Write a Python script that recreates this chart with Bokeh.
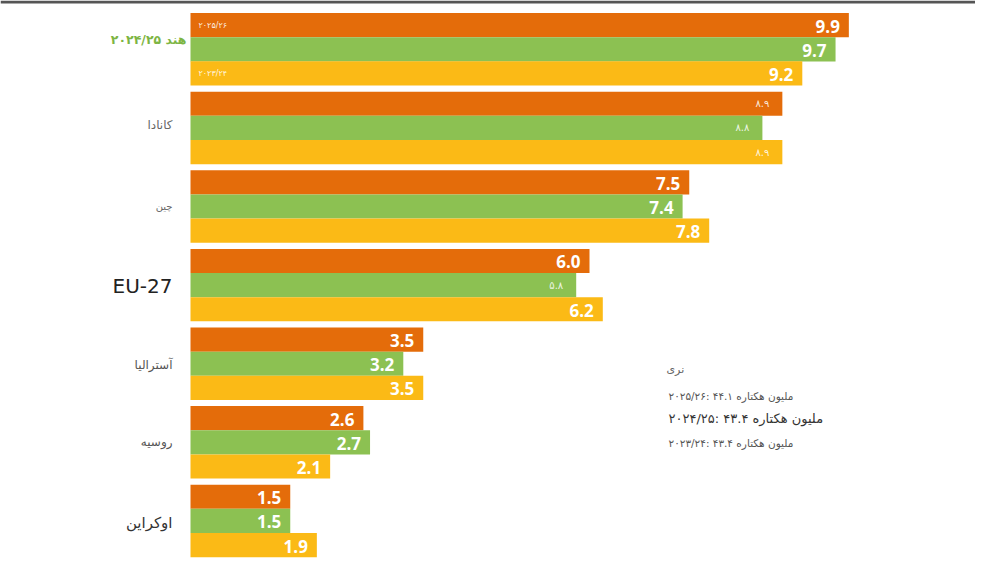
from bokeh.plotting import figure
from bokeh.models import ColumnDataSource, Range1d, Span, Label
from bokeh.core.properties import value
from bokeh.embed import file_html
from bokeh.resources import INLINE

# ---- data ----
countries = ["هند", "کانادا", "چین", "EU-27", "آسترالیا", "روسیه", "اوکراین"]
v2526 = [9.9, 8.9, 7.5, 6.0, 3.5, 2.6, 1.5]
v2425 = [9.7, 8.6, 7.4, 5.8, 3.2, 2.7, 1.5]
v2324 = [9.2, 8.9, 7.8, 6.2, 3.5, 2.1, 1.9]
l2526 = ["9.9", "۸.۹", "7.5", "6.0", "3.5", "2.6", "1.5"]
l2425 = ["9.7", "۸.۸", "7.4", "۵.۸", "3.2", "2.7", "1.5"]
l2324 = ["9.2", "۸.۹", "7.8", "6.2", "3.5", "2.1", "1.9"]
series_names = ["۲۰۲۵/۲۶", "۲۰۲۴/۲۵", "۲۰۲۳/۲۴"]
india_label = "هند ۲۰۲۴/۲۵"
note_title = "نری"
note_lines = ["\u200e۲۰۲۵/۲۶: ۴۴.۱ ملیون هکتاره",
              "\u200e۲۰۲۴/۲۵: ۴۳.۴ ملیون هکتاره",
              "\u200e۲۰۲۳/۲۴: ۴۳.۴ ملیون هکتاره"]

COL_OR = "#E46C0A"
COL_GR = "#8CC152"
COL_YE = "#FBBA16"

W, H = 975, 558
PX_PER_UNIT = 66.5
X0_PX = 190.0
PITCH = 78.6
G0_PX = 48.8
BAR_H = 24.15 / PITCH

x_start = -X0_PX / PX_PER_UNIT
x_end = (W - X0_PX) / PX_PER_UNIT
y_top = -G0_PX / PITCH
y_bot = (H - G0_PX) / PITCH

p = figure(width=W, height=H, output_backend="svg", toolbar_location=None,
           x_range=Range1d(x_start, x_end), y_range=Range1d(y_bot, y_top),
           min_border=0, min_border_left=0, min_border_right=0,
           min_border_top=0, min_border_bottom=0)
p.axis.visible = False
p.grid.visible = False
p.outline_line_color = None
p.background_fill_color = "white"
p.border_fill_color = "white"

persian = set("۰۱۲۳۴۵۶۷۸۹")

def is_persian(s):
    return any(c in persian for c in s)

offsets = [-BAR_H, 0.0, BAR_H]
colors = [COL_OR, COL_GR, COL_YE]
vals = [v2526, v2425, v2324]
labs = [l2526, l2425, l2324]

for off, col, vv, ll in zip(offsets, colors, vals, labs):
    ys = [i + off for i in range(len(countries))]
    src = ColumnDataSource(dict(y=ys, right=vv, lab=ll))
    p.hbar(y="y", left=0, right="right", height=BAR_H, source=src,
           fill_color=col, line_color=None)
    wi = [k for k, s in enumerate(ll) if not is_persian(s)]
    pi = [k for k, s in enumerate(ll) if is_persian(s)]
    ws = ColumnDataSource(dict(x=[vv[k] for k in wi], y=[ys[k] for k in wi],
                               t=[ll[k] for k in wi]))
    p.text(x="x", y="y", text="t", source=ws, text_align="right",
           text_baseline="middle", x_offset=-9, y_offset=1,
           text_color="white", text_font=value("Open Sans"),
           text_font_style="bold", text_font_size="17px")
    ps = ColumnDataSource(dict(x=[vv[k] for k in pi], y=[ys[k] for k in pi],
                               t=[ll[k] for k in pi]))
    p.text(x="x", y="y", text="t", source=ps, text_align="right",
           text_baseline="middle", x_offset=-13, y_offset=0,
           text_color="white", text_alpha=0.85, text_font=value("DejaVu Sans"),
           text_font_size="10px")

# small year tags inside the first group
tag_src = ColumnDataSource(dict(x=[0, 0], y=[0 + offsets[0], 0 + offsets[2]],
                                t=[series_names[0], series_names[2]]))
p.text(x="x", y="y", text="t", source=tag_src, text_align="left",
       text_baseline="middle", x_offset=8, text_color="white", text_alpha=0.9,
       text_font=value("DejaVu Sans"), text_font_size="8px")

# category labels
cat_src = ColumnDataSource(dict(
    x=[0] * (len(countries) - 1),
    y=list(range(1, len(countries))),
    t=countries[1:],
    size=["12px", "10px", "20px", "12px", "12px", "15px"],
    color=["#666666", "#666666", "#222222", "#555555", "#555555", "#333333"],
    yo=[-3, 0, 1, 1, 0, 2],
))
p.text(x="x", y="y", text="t", source=cat_src, text_align="right",
       text_baseline="middle", x_offset=-18, y_offset="yo",
       text_font=value("DejaVu Sans"), text_font_size="size", text_color="color")
p.text(x=[0], y=[0], text=[india_label], text_align="right",
       text_baseline="middle", x_offset=-4, y_offset=-10,
       text_font=value("DejaVu Sans"), text_font_size="12.5px",
       text_font_style="bold", text_color="#7DB543")

# top rule
p.add_layout(Span(location=y_top + 1.5 / PITCH, dimension="width",
                  line_color="#555555", line_width=3))

# note block
p.add_layout(Label(x=666, y=H - 369, x_units="screen", y_units="screen",
                   text=note_title, text_font="DejaVu Sans", text_font_size="11px",
                   text_color="#666666", text_baseline="middle", text_align="left"))
note_y = [395, 418, 442]
note_sz = ["10.5px", "13px", "10.5px"]
note_col = ["#555555", "#333333", "#555555"]
for t, yy, sz, c in zip(note_lines, note_y, note_sz, note_col):
    p.add_layout(Label(x=668, y=H - yy, x_units="screen", y_units="screen",
                       text=t, text_font="DejaVu Sans", text_font_size=sz,
                       text_color=c, text_baseline="middle", text_align="left"))

open("out.html", "w").write(file_html(p, INLINE))
